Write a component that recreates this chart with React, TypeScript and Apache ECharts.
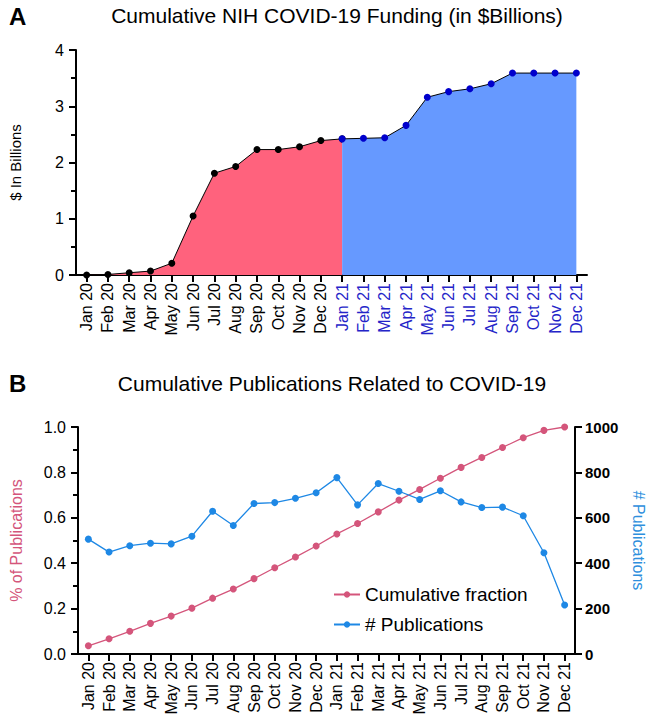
import React, { useEffect, useRef } from "react";
import * as echarts from "echarts";

const months: string[] = [
  "Jan 20", "Feb 20", "Mar 20", "Apr 20", "May 20", "Jun 20", "Jul 20", "Aug 20", "Sep 20", "Oct 20", "Nov 20", "Dec 20",
  "Jan 21", "Feb 21", "Mar 21", "Apr 21", "May 21", "Jun 21", "Jul 21", "Aug 21", "Sep 21", "Oct 21", "Nov 21", "Dec 21",
];

// Cumulative NIH funding, $ billions
const funding2020: number[] = [0.0, 0.01, 0.04, 0.07, 0.21, 1.05, 1.81, 1.93, 2.23, 2.23, 2.28, 2.39, 2.42];
const funding2021: number[] = [2.42, 2.43, 2.44, 2.66, 3.16, 3.26, 3.31, 3.4, 3.59, 3.59, 3.59, 3.59];

// Publications
const cumulativeFraction: number[] = [
  0.036, 0.067, 0.1, 0.135, 0.167, 0.202, 0.246, 0.286, 0.332, 0.38, 0.427, 0.476,
  0.529, 0.575, 0.626, 0.678, 0.725, 0.774, 0.822, 0.866, 0.91, 0.953, 0.985, 1.0,
];
const publications: number[] = [
  506, 449, 477, 488, 485, 519, 629, 566, 663, 667, 686, 710,
  777, 657, 751, 717, 681, 719, 670, 645, 647, 609, 446, 216,
];

const leftTicks: number[] = [0, 0.2, 0.4, 0.6, 0.8, 1.0];
const rightTicks: number[] = [0, 200, 400, 600, 800, 1000];

const FONT = "Liberation Sans, Arial, sans-serif";

export default function App() {
  const ref = useRef<HTMLDivElement>(null);
  useEffect(() => {
    document.body.style.margin = "0";
    if (!ref.current) return;
    const chart = echarts.init(ref.current, undefined, { renderer: "svg" });

    const redData = months.map((_, i) => (i < funding2020.length ? funding2020[i] : "-"));
    const blueData = months.map((_, i) => (i >= 12 ? funding2021[i - 12] : "-"));

    const axisLine = { show: true, lineStyle: { color: "#000", width: 2 } };
    const axisTick = { show: true, length: 7, lineStyle: { color: "#000", width: 2 } };
    const minorTick = { show: true, splitNumber: 2, length: 5, lineStyle: { color: "#000", width: 2 } };

    const option: any = {
      animation: false,
      textStyle: { fontFamily: FONT },
      graphic: [
        { type: "text", left: 9, top: 4, style: { text: "A", font: `bold 24px ${FONT}`, fill: "#000" } },
        { type: "text", x: 337, y: 15, style: { text: "Cumulative NIH COVID-19 Funding (in $Billions)", font: `21px ${FONT}`, fill: "#000", textAlign: "center", textVerticalAlign: "middle" } },
        { type: "text", left: 9, top: 371, style: { text: "B", font: `bold 24px ${FONT}`, fill: "#000" } },
        { type: "text", x: 332, y: 383, style: { text: "Cumulative Publications Related to COVID-19", font: `21px ${FONT}`, fill: "#000", textAlign: "center", textVerticalAlign: "middle" } },
      ],
      grid: [
        { left: 74, top: 50, width: 513, height: 225 },
        { left: 74, top: 427, width: 513, height: 227 },
      ],
      legend: {
        data: ["Cumulative fraction", "# Publications"],
        orient: "vertical",
        left: 328,
        top: 580,
        itemWidth: 26,
        itemHeight: 8,
        itemGap: 11,
        textStyle: { fontSize: 19, color: "#000", fontFamily: FONT },
      },
      xAxis: [
        {
          type: "category",
          gridIndex: 0,
          data: months,
          boundaryGap: true,
          axisLine,
          axisTick: { ...axisTick, alignWithLabel: true },
          axisLabel: {
            rotate: 90,
            interval: 0,
            fontSize: 16,
            margin: 8,
            fontFamily: FONT,
            color: (_v: string, i: number) => (i >= 12 ? "#2424C8" : "#000"),
          },
        },
        {
          type: "category",
          gridIndex: 1,
          data: months,
          boundaryGap: true,
          axisLine,
          axisTick: { ...axisTick, alignWithLabel: true },
          axisLabel: { rotate: 90, interval: 0, fontSize: 16, margin: 8, color: "#000", fontFamily: FONT },
        },
      ],
      yAxis: [
        {
          type: "value",
          gridIndex: 0,
          min: 0,
          max: 4,
          interval: 1,
          name: "$ In Billions",
          nameLocation: "middle",
          nameGap: 53,
          nameTextStyle: { fontSize: 15, color: "#000", fontFamily: FONT },
          axisLine,
          axisTick,
          minorTick,
          splitLine: { show: false },
          axisLabel: { fontSize: 16, color: "#000", margin: 12, fontFamily: FONT },
        },
        {
          type: "value",
          gridIndex: 1,
          min: leftTicks[0],
          max: leftTicks[leftTicks.length - 1],
          interval: 0.2,
          name: "% of Publications",
          nameLocation: "middle",
          nameGap: 54,
          nameTextStyle: { fontSize: 16, color: "#D4557B", fontFamily: FONT },
          axisLine,
          axisTick,
          minorTick,
          splitLine: { show: false },
          axisLabel: { fontSize: 16, color: "#000", margin: 12, fontFamily: FONT, formatter: (v: number) => v.toFixed(1) },
        },
        {
          type: "value",
          gridIndex: 1,
          position: "right",
          min: rightTicks[0],
          max: rightTicks[rightTicks.length - 1],
          interval: 200,
          name: "# Publications",
          nameLocation: "middle",
          nameRotate: -90,
          nameGap: 55,
          nameTextStyle: { fontSize: 16, color: "#2E8FDD", fontFamily: FONT },
          axisLine,
          axisTick,
          splitLine: { show: false },
          axisLabel: { fontSize: 15, fontWeight: "bold", color: "#000", margin: 10, fontFamily: FONT, formatter: (v: number) => String(v) },
        },
      ],
      series: [
        {
          name: "Funding 2020",
          type: "line",
          xAxisIndex: 0,
          yAxisIndex: 0,
          data: redData,
          symbol: "circle",
          symbolSize: 7,
          itemStyle: { color: "#000" },
          lineStyle: { color: "#000", width: 1 },
          areaStyle: { color: "#FF627D", opacity: 1 },
          z: 2,
        },
        {
          name: "Funding 2021",
          type: "line",
          xAxisIndex: 0,
          yAxisIndex: 0,
          data: blueData,
          symbol: "circle",
          symbolSize: 7,
          itemStyle: { color: "#0000CC" },
          lineStyle: { color: "#000", width: 1 },
          areaStyle: { color: "#6699FF", opacity: 1 },
          z: 3,
        },
        {
          name: "Cumulative fraction",
          type: "line",
          xAxisIndex: 1,
          yAxisIndex: 1,
          data: cumulativeFraction,
          symbol: "circle",
          symbolSize: 7,
          itemStyle: { color: "#D4557B" },
          lineStyle: { color: "#D4557B", width: 1.3 },
        },
        {
          name: "# Publications",
          type: "line",
          xAxisIndex: 1,
          yAxisIndex: 2,
          data: publications,
          symbol: "circle",
          symbolSize: 7,
          itemStyle: { color: "#1E88E5" },
          lineStyle: { color: "#1E88E5", width: 1.3 },
        },
      ],
    };
    chart.setOption(option);
    return () => chart.dispose();
  }, []);
  return <div ref={ref} style={{ width: 654, height: 723 }} />;
}
